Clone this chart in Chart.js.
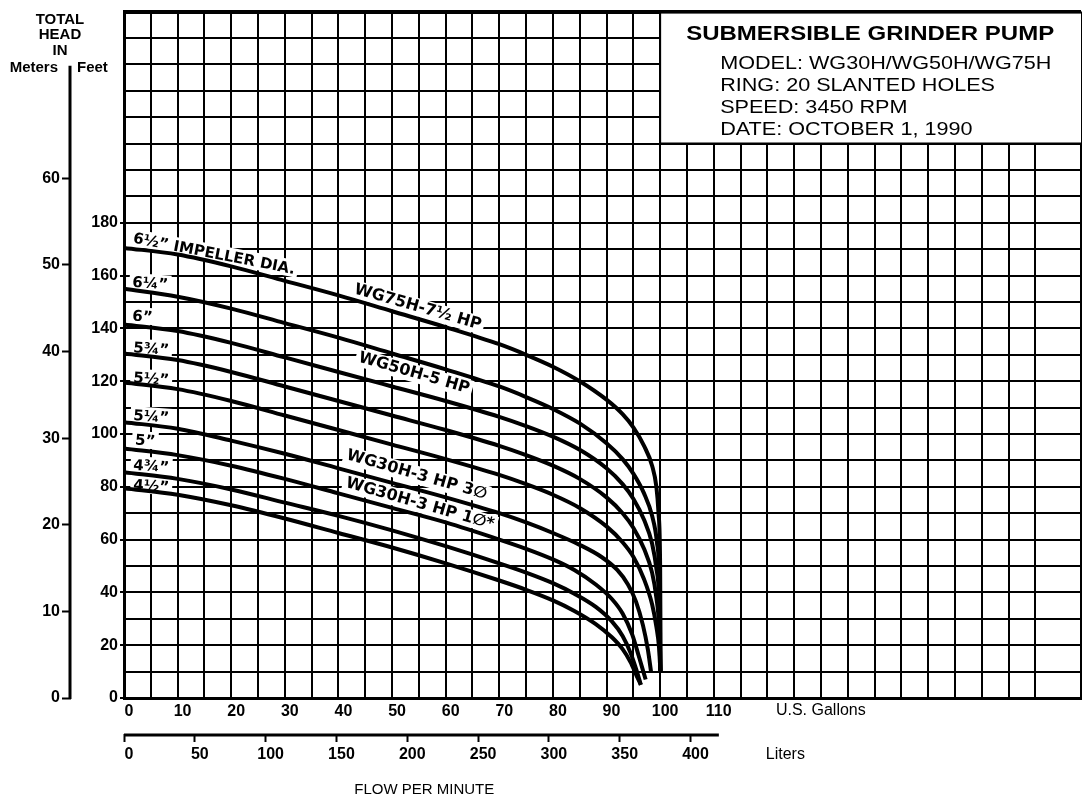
<!DOCTYPE html>
<html><head><meta charset="utf-8">
<script src="https://cdn.jsdelivr.net/npm/chart.js@4.4.1/dist/chart.umd.min.js"></script>
<style>html,body{margin:0;padding:0;background:#fff;overflow:hidden}</style>
</head><body>
<canvas id="c" width="1085" height="802"></canvas>
<script>
// ---------- data ----------
const GAL_MAX = 178.5;          // right edge of grid, US gallons per minute
const FT_MAX = 260;             // top of grid, feet
const FT_PER_M = 3.28084;
const L_PER_GAL = 3.78541;

const flowLabelMax = 110;       // last labelled gallon tick
const feetLabelMax = 180;       // last labelled feet tick
const meterLabelMax = 60;       // last labelled meter tick
const literLabelMax = 400;      // last labelled liter tick

const impellerNames = ['6½” IMPELLER DIA.','6¼”','6”','5¾”','5½”','5¼”','5”','4¾”','4½”'];

const flow650 = [0,10,20,30,40,50,60,70,75,80,85,90,93,95,97,98.5,99.3,99.7,100,100.1];
const head650 = [170.5,168,163.5,158,152.5,146.5,140.5,134,130,125.5,120,113,107.5,102.5,95.5,88,80,70,50,10];
const flow625 = [0,10,20,30,40,50,60,70,75,80,85,90,93,95,97,98.5,99.4,99.8,100.05];
const head625 = [155,152,147.5,142,136.5,130.5,124.5,118,114,109.5,104,96.5,90.5,85,77.5,69,59,47,10];
const flow600 = [0,10,20,30,40,50,60,70,75,80,85,90,93,95,97,98.5,99.3,99.8,100.05];
const head600 = [141.5,139,134.5,129,123.5,118,112.5,106.5,103,99,94,87,81,75.5,67.5,58.5,49,37,10];
const flow575 = [0,10,20,30,40,50,60,70,75,80,85,90,93,95,97,98.5,99.3,99.8,100.05];
const head575 = [130.5,128,123.5,118,112.5,107,101.5,95.5,92,88,83,76,70,64.5,56.5,47.5,38,27,10];
const flow550 = [0,10,20,30,40,50,60,70,75,80,85,90,93,95,97,98.5,99.3,99.8,100.05];
const head550 = [119.5,117,112.5,107,101.5,96,90.5,84.5,81,77,72,65,59,53.5,45,35.5,27,19,10];
const flow525 = [0,10,20,30,40,50,60,70,75,80,85,89,92,94,95.5,96.8,97.7,98.3];
const head525 = [104.5,102,97.5,92.5,87,81.5,76,70,66.5,62.5,58,53.5,48.5,43,36.5,27.5,18.5,10];
const flow500 = [0,10,20,30,40,50,60,70,75,80,84,88,91,93,94.8,96,97.3];
const head500 = [94.5,92,88,83,77.5,72,66.5,60,56.5,52.5,48.5,43,37.5,32,24,16,7];
const flow475 = [0,10,20,30,40,50,60,70,75,80,84,88,91,93,94.5,95.6,96.4];
const head475 = [85.5,83,79,74,69,63.5,57.5,51,47.5,43.5,39.5,34.5,29,23.5,17,10.5,5];
const flow450 = [0,10,20,30,40,50,60,70,75,80,84,88,91,93,94.5,95.6,96.4];
const head450 = [79.5,77,73,68,62.5,57,51,44.5,41,37,33,28,23,18.5,13.5,8.5,5];

// label anchors (data coordinates: gallons, feet)
const impLabelFlow = [1.6,1.5,1.5,1.7,1.7,1.7,2.0,1.7,1.7];
const impLabelHead = [172.5,155.8,143.0,131.0,119.6,105.3,96.0,86.5,79.0];
const modelNames = ['WG75H-7½ HP','WG50H-5 HP','WG30H-3 HP 3∅','WG30H-3 HP 1∅*'];
const modelFlow = [54.8,54.1,54.6,55.2];
const modelHead = [148.0,123.0,84.5,73.5];

const titleLines = ['MODEL: WG30H/WG50H/WG75H','RING: 20 SLANTED HOLES','SPEED: 3450 RPM','DATE: OCTOBER 1, 1990'];

// ---------- build ----------
const curves = [[flow650,head650],[flow625,head625],[flow600,head600],[flow575,head575],[flow550,head550],
                [flow525,head525],[flow500,head500],[flow475,head475],[flow450,head450]];
const datasets = curves.map((c,i)=>({
  label: impellerNames[i],
  data: c[0].map((g,k)=>({x:g,y:c[1][k]})),
  borderColor:'#000', borderWidth:4, pointRadius:0, showLine:true, fill:false,
  cubicInterpolationMode:'monotone'
}));

const FONT = '"Liberation Sans", Arial, Helvetica, sans-serif';
const LFONT = '"DejaVu Sans", "Liberation Sans", sans-serif';

function drawText(ctx, s, x, y, o){
  o = o || {};
  ctx.save();
  ctx.translate(x,y);
  if (o.angle) ctx.rotate(o.angle*Math.PI/180);
  ctx.scale(o.hs||1,1);
  ctx.font = o.font || ('16px '+FONT);
  ctx.textAlign = o.align || 'left';
  ctx.textBaseline = o.baseline || 'alphabetic';
  if (o.bg){
    const w = ctx.measureText(s).width;
    let x0 = 0;
    if (ctx.textAlign==='center') x0 = -w/2; else if (ctx.textAlign==='right') x0 = -w;
    const h = o.bgH || 16;
    let y0 = ctx.textBaseline==='middle' ? -h/2 : -h*0.85;
    ctx.fillStyle='#fff';
    ctx.fillRect(x0-3, y0-1, w+6, h+2);
  }
  ctx.fillStyle = '#000';
  ctx.fillText(s,0,0);
  ctx.restore();
}

const decor = {
  id:'decor',
  beforeDraw(chart){
    const c=chart.ctx; c.save(); c.fillStyle='#fff'; c.fillRect(0,0,chart.width,chart.height); c.restore();
  },
  beforeDatasetsDraw(chart){
    const ctx = chart.ctx, x = chart.scales.x, y = chart.scales.y;
    // title box
    const bx = x.getPixelForValue(100), by = y.getPixelForValue(FT_MAX), bb = y.getPixelForValue(210);
    const br = chart.chartArea.right;
    ctx.save();
    ctx.fillStyle='#fff'; ctx.fillRect(bx, by+2, br-bx, bb-by-2);
    ctx.strokeStyle='#000'; ctx.lineWidth=2;
    ctx.beginPath(); ctx.moveTo(bx,by); ctx.lineTo(bx,bb); ctx.lineTo(br,bb); ctx.stroke();
    ctx.restore();
    drawText(ctx,'SUBMERSIBLE GRINDER PUMP', bx+26, by+23, {font:'bold 20px '+FONT, baseline:'middle', hs:1.2});
    titleLines.forEach((t,i)=>drawText(ctx,t,bx+60,by+52+i*22.2,{font:'18px '+FONT, baseline:'middle', hs:1.2}));
    // impeller labels
    impellerNames.forEach((t,i)=>{
      const px = x.getPixelForValue(impLabelFlow[i]), py = y.getPixelForValue(impLabelHead[i]);
      drawText(ctx,t,px,py,{font:'bold 15px '+LFONT, angle: i===0?11:4, bg:true, hs:1.0, bgH:15});
    });
    // model labels
    modelNames.forEach((t,i)=>{
      const px = x.getPixelForValue(modelFlow[i]), py = y.getPixelForValue(modelHead[i]);
      drawText(ctx,t,px,py,{font:'bold 16px '+LFONT, angle:16, align:'center', baseline:'middle', bg:true, hs:1.0});
    });
  },
  afterDraw(chart){
    const ctx = chart.ctx, x = chart.scales.x, ym = chart.scales.ym, xL = chart.scales.xL;
    ctx.save();
    ctx.strokeStyle='#000'; ctx.lineWidth=3;
    // meters axis line
    ctx.beginPath(); ctx.moveTo(ym.right-1, ym.getPixelForValue(0)+1); ctx.lineTo(ym.right-1, ym.getPixelForValue(73)); ctx.stroke();
    // liters axis line
    ctx.beginPath(); ctx.moveTo(xL.getPixelForValue(0), xL.top+1); ctx.lineTo(xL.getPixelForValue(420), xL.top+1); ctx.stroke();
    ctx.restore();
    // axis header texts
    const hx = ym.right - 11;
    const hf = 'bold 14px '+FONT;
    drawText(ctx,'TOTAL',hx,20,{font:hf, align:'center', baseline:'middle', hs:1.07});
    drawText(ctx,'HEAD',hx,35.5,{font:hf, align:'center', baseline:'middle', hs:1.07});
    drawText(ctx,'IN',hx,51,{font:hf, align:'center', baseline:'middle', hs:1.07});
    drawText(ctx,'Meters',ym.right-13,68.5,{font:hf, align:'right', baseline:'middle', hs:1.07});
    drawText(ctx,'Feet',ym.right+6,68.5,{font:hf, align:'left', baseline:'middle', hs:1.07});
    // unit texts
    drawText(ctx,'U.S. Gallons', x.getPixelForValue(121.6), x.top+13, {font:'16px '+FONT, baseline:'middle'});
    drawText(ctx,'Liters', x.getPixelForValue(119.7), xL.top+21, {font:'16px '+FONT, baseline:'middle'});
    drawText(ctx,'FLOW PER MINUTE', x.getPixelForValue(56), xL.top+56, {font:'15px '+FONT, align:'center', baseline:'middle'});
  }
};

const numFont = {family:FONT, size:16, weight:'bold'};

new Chart(document.getElementById('c'), {
  type:'scatter',
  data:{datasets},
  plugins:[decor],
  options:{
    responsive:false, animation:false, devicePixelRatio:1,
    layout:{padding:{top:10,right:0,left:0,bottom:0}},
    plugins:{legend:{display:false}, tooltip:{enabled:false}},
    scales:{
      x:{type:'linear', position:'bottom', weight:0, min:0, max:GAL_MAX,
        afterFit(s){ s.height = 36; },
        ticks:{stepSize:5, autoSkip:false, maxRotation:0, color:'#000', padding:4, labelOffset:5,
          font:numFont,
          callback:v=> (v%10===0 && v<=flowLabelMax) ? String(v) : ''},
        grid:{color:'#000', lineWidth:2, drawTicks:false},
        border:{display:true, color:'#000', width:3}
      },
      xL:{type:'linear', position:'bottom', weight:1, min:0, max:GAL_MAX*L_PER_GAL,
        afterFit(s){ s.height = 68; },
        ticks:{stepSize:50, autoSkip:false, maxRotation:0, color:'#000', padding:3, labelOffset:5,
          font:numFont,
          callback:v=> (v%50===0 && v<=literLabelMax) ? String(v) : ''},
        grid:{drawOnChartArea:false, drawTicks:true, tickLength:8, tickWidth:2,
          tickColor:c=> (c.tick && c.tick.value<=literLabelMax && c.tick.value%50===0) ? '#000' : 'rgba(0,0,0,0)'},
        border:{display:false}
      },
      y:{type:'linear', position:'left', weight:0, min:0, max:FT_MAX,
        afterFit(s){ s.width = 53; },
        ticks:{stepSize:10, autoSkip:false, color:'#000', padding:2,
          font:numFont,
          callback:v=> (v%20===0 && v<=feetLabelMax) ? String(v) : ''},
        grid:{color:'#000', lineWidth:c=> (c.tick && c.tick.value===FT_MAX) ? 4 : 2, drawTicks:true, tickLength:4,
          tickColor:c=> (c.tick && c.tick.value%20===0 && c.tick.value<=feetLabelMax) ? '#000' : 'rgba(0,0,0,0)'},
        border:{display:true, color:'#000', width:3}
      },
      ym:{type:'linear', position:'left', weight:1, min:0, max:FT_MAX/FT_PER_M,
        afterFit(s){ s.width = 71; },
        ticks:{stepSize:10, autoSkip:false, color:'#000', padding:2,
          font:numFont,
          callback:v=> (v%10===0 && v<=meterLabelMax) ? String(v) : ''},
        grid:{drawOnChartArea:false, drawTicks:true, tickLength:9, tickWidth:2,
          tickColor:c=> (c.tick && c.tick.value%10===0 && c.tick.value<=meterLabelMax) ? '#000' : 'rgba(0,0,0,0)'},
        border:{display:false}
      }
    }
  }
});
</script>
</body></html>
